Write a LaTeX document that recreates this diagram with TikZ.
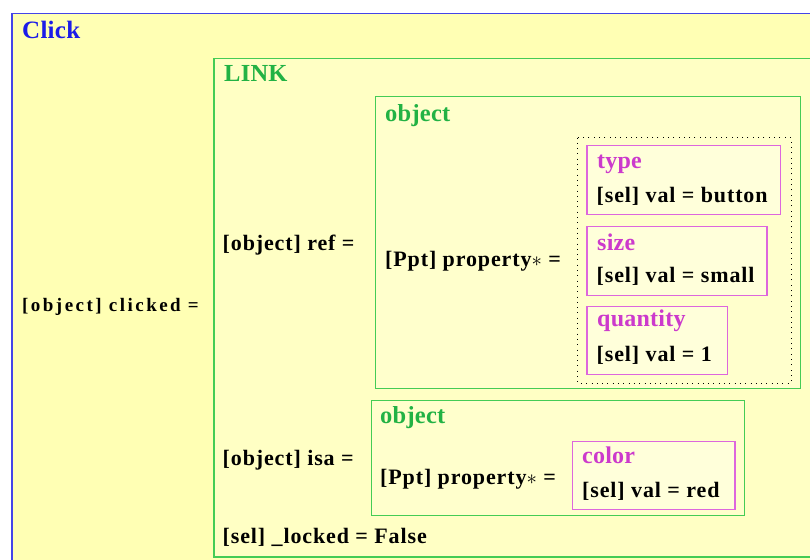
\documentclass[tikz,border=0pt]{standalone}
\usepackage{fontspec}
\setmainfont{Liberation Serif}
\newfontfamily\lblfont[LetterSpace=4]{Liberation Serif}
\newfontfamily\clkfont[LetterSpace=13]{Liberation Serif}
\newfontfamily\headfont[LetterSpace=1]{Liberation Serif}
\definecolor{outerfill}{HTML}{FFFFB4}
\definecolor{linkfill}{HTML}{FFFFC4}
\definecolor{objfill}{HTML}{FFFFCC}
\definecolor{propfill}{HTML}{FFFFDA}
\definecolor{blueline}{HTML}{4444E8}
\definecolor{bluetext}{HTML}{1C1CE8}
\definecolor{greenline}{HTML}{44CC55}
\definecolor{greentext}{HTML}{22B244}
\definecolor{magline}{HTML}{DD66DD}
\definecolor{magtext}{HTML}{CC3ACC}
\tikzset{
  lbl/.style={anchor=base west, inner sep=0pt, font=\lblfont\bfseries\fontsize{22}{26}\selectfont, text=black},
  clk/.style={anchor=base west, inner sep=0pt, font=\clkfont\bfseries\fontsize{19}{22}\selectfont, text=black},
  bluehead/.style={anchor=base west, inner sep=0pt, font=\headfont\bfseries\fontsize{25}{30}\selectfont, text=bluetext},
  greenhead/.style={anchor=base west, inner sep=0pt, font=\headfont\bfseries\fontsize{24.5}{30}\selectfont, text=greentext},
  maghead/.style={anchor=base west, inner sep=0pt, font=\headfont\bfseries\fontsize{24}{30}\selectfont, text=magtext},
  outerbox/.style={draw=blueline, fill=outerfill, line width=1.4pt},
  greenbox/.style={draw=greenline, line width=1.2pt},
  magbox/.style={draw=magline, fill=propfill, line width=1.2pt},
  dotbox/.style={draw=black, line width=1pt, dash pattern=on 1pt off 4.3pt},
}
\begin{document}
\begin{tikzpicture}[x=1pt,y=-1pt]
\useasboundingbox (0,0) rectangle (810,559);
\fill[white] (0,0) rectangle (810,559);
% outer Click box
\draw[outerbox] (12,13.7) rectangle (830,580);
\node[bluehead] (click) at (22,39) {Click};
\node[clk] (clicked) at (22,311.5) {[object] clicked =};
% LINK box
\draw[greenbox, fill=linkfill] (214,58.3) rectangle (830,557);
\node[greenhead] (link) at (224,82) {LINK};
\node[lbl] (ref) at (222.5,250) {[object] ref =};
% object box 1
\draw[greenbox, fill=objfill] (375.7,96.7) rectangle (800.5,388.2);
\node[greenhead] (obj1) at (385,121.5) {object};
\node[lbl] (prop1) at (385,266.5) {[Ppt] property\mbox{$\ast$} =};
% dotted group
\draw[dotbox] (577.3,137.5) rectangle (791,383);
% type
\draw[magbox] (587,145.7) rectangle (780.5,214.3);
\node[maghead] (type) at (597,168) {type};
\node[lbl] (typeval) at (596.5,202.5) {[sel] val = button};
% size
\draw[magbox] (587,226.7) rectangle (767,295.7);
\node[maghead] (size) at (597,250.5) {size};
\node[lbl] (sizeval) at (596.5,282.5) {[sel] val = small};
% quantity
\draw[magbox] (587,306.7) rectangle (727.5,374.3);
\node[maghead] (quantity) at (597,326.5) {quantity};
\node[lbl] (qval) at (596.5,361.5) {[sel] val = 1};
% isa
\node[lbl] (isa) at (222.5,465) {[object] isa =};
\draw[greenbox, fill=objfill] (371.3,400.7) rectangle (744.8,515.8);
\node[greenhead] (obj2) at (380,423.3) {object};
\node[lbl] (prop2) at (380,484) {[Ppt] property\mbox{$\ast$} =};
\draw[magbox] (572.5,441.7) rectangle (735,509.3);
\node[maghead] (color) at (582,463.3) {color};
\node[lbl] (colorval) at (582,497.3) {[sel] val = red};
% locked
\node[lbl] (locked) at (222.5,543) {[sel] \_locked = False};
\end{tikzpicture}
\end{document}
